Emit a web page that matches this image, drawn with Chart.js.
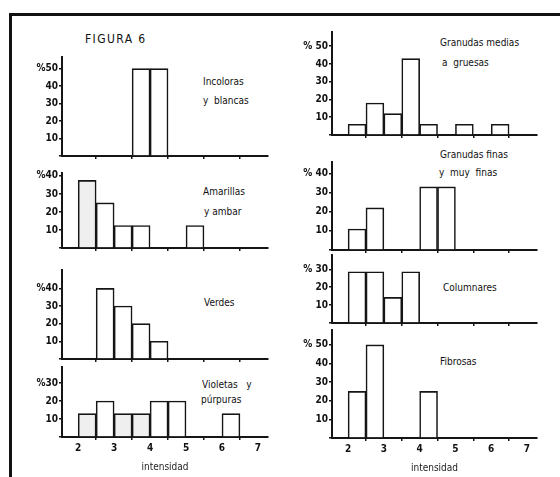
<!DOCTYPE html>
<html>
<head>
<meta charset="utf-8">
<script src="https://cdn.jsdelivr.net/npm/chart.js@4"></script>
<style>
  body { margin: 0; width: 560px; height: 477px; overflow: hidden; position: relative; background: #fff;
         font-family: 'DejaVu Sans Condensed', 'DejaVu Sans', sans-serif; color: #111; }
  canvas { position: absolute; }
  .t { position: absolute; font-size: 10px; line-height: 12px; white-space: pre; }
  .frame-l { position: absolute; left: 9px; top: 13px; width: 3px; height: 470px; background: #111; }
  .frame-t { position: absolute; left: 9px; top: 13px; width: 560px; height: 3px; background: #111; }
</style>
</head>
<body>
<div class="frame-l"></div>
<div class="frame-t"></div>
<div class="t" style="left:85px;top:33px;font-size:12px;letter-spacing:1.4px;">FIGURA 6</div>

<div class="t" style="left:203px;top:76px;">Incoloras</div>
<div class="t" style="left:203px;top:95px;">y  blancas</div>
<div class="t" style="left:203px;top:186px;">Amarillas</div>
<div class="t" style="left:204px;top:206px;">y ambar</div>
<div class="t" style="left:204px;top:297px;">Verdes</div>
<div class="t" style="left:202px;top:379px;">Violetas   y</div>
<div class="t" style="left:201px;top:394px;">púrpuras</div>

<div class="t" style="left:440px;top:37px;">Granudas medias</div>
<div class="t" style="left:442px;top:57px;">a  gruesas</div>
<div class="t" style="left:440px;top:149px;">Granudas finas</div>
<div class="t" style="left:439px;top:167px;">y  muy  finas</div>
<div class="t" style="left:443px;top:282px;">Columnares</div>
<div class="t" style="left:440px;top:356px;">Fibrosas</div>

<script>
// bin centres (intensity, bins of 0.5)
const bins = [2.25, 2.75, 3.25, 3.75, 4.25, 4.75, 5.25, 5.75, 6.25, 6.75];
const xTicks = [2, 3, 4, 5, 6, 7];
const yTicks50 = [10, 20, 30, 40, 50];
const yTicks40 = [10, 20, 30, 40];
const yTicks30 = [10, 20, 30];

// % per bin
const incoloras  = [0, 0, 0, 50, 50, 0, 0, 0, 0, 0];
const amarillas  = [37.5, 25, 12.5, 12.5, 0, 0, 12.5, 0, 0, 0];
const verdes     = [0, 40, 30, 20, 10, 0, 0, 0, 0, 0];
const violetas   = [13, 20, 13, 13, 20, 20, 0, 0, 13, 0];
const granMedias = [6, 18, 12, 43, 6, 0, 6, 0, 6, 0];
const granFinas  = [11, 22, 0, 0, 33, 33, 0, 0, 0, 0];
const columnares = [28.6, 28.6, 14.3, 28.6, 0, 0, 0, 0, 0, 0];
const fibrosas   = [25, 50, 0, 0, 25, 0, 0, 0, 0, 0];

const panels = [
  { values: incoloras,  ticks: yTicks50, max: 56.7, L: 62,  R: 268, T: 57,  B: 159, pct: '%' },
  { values: amarillas,  ticks: yTicks40, max: 41.6, L: 62,  R: 268, T: 173, B: 251, pct: '%', shade: [0] },
  { values: verdes,     ticks: yTicks40, max: 50.4, L: 62,  R: 268, T: 270, B: 362, pct: '%' },
  { values: violetas,   ticks: yTicks30, max: 38.9, L: 62,  R: 268, T: 367, B: 437, pct: '%', shade: [0, 2, 3], bottom: true },
  { values: granMedias, ticks: yTicks50, max: 58,   L: 332, R: 537, T: 32,  B: 138, pct: '% ' },
  { values: granFinas,  ticks: yTicks40, max: 46,   L: 332, R: 537, T: 162, B: 253, pct: '% ' },
  { values: columnares, ticks: yTicks30, max: 38,   L: 332, R: 537, T: 255, B: 326, pct: '% ' },
  { values: fibrosas,   ticks: yTicks50, max: 58,   L: 332, R: 537, T: 330, B: 438, pct: '% ', bottom: true }
];

const ink = '#151515';
const tickFont = { family: "'DejaVu Sans Condensed', 'DejaVu Sans', sans-serif", size: 10, weight: 'bold' };

function makePanel(p) {
  const padTop = 8, yW = 42, padR = 6;
  const xH = p.bottom ? 36 : 4;
  const w = p.R - p.L + yW + padR;
  const h = p.B - p.T + padTop + xH;
  const c = document.createElement('canvas');
  c.width = w; c.height = h;
  c.style.left = (p.L - yW) + 'px';
  c.style.top = (p.T - padTop) + 'px';
  c.style.width = w + 'px';
  c.style.height = h + 'px';
  document.body.appendChild(c);

  const top = p.ticks[p.ticks.length - 1];
  const shade = p.shade || [];

  new Chart(c, {
    type: 'bar',
    data: {
      datasets: [{
        data: bins.map((x, i) => ({ x: x, y: p.values[i] })),
        backgroundColor: bins.map((x, i) => shade.includes(i) ? '#efefef' : '#ffffff'),
        borderColor: ink,
        borderWidth: 1.6,
        borderSkipped: 'start',
        barPercentage: 1,
        categoryPercentage: 1
      }]
    },
    options: {
      responsive: false,
      animation: false,
      devicePixelRatio: 1,
      layout: { padding: { top: padTop, right: padR, left: 0, bottom: 0 } },
      plugins: { legend: { display: false }, tooltip: { enabled: false } },
      scales: {
        x: {
          type: 'linear', min: 1.55, max: 7.28, offset: false,
          afterBuildTicks: s => { s.ticks = xTicks.map(v => ({ value: v })); },
          afterFit: s => { s.height = xH; },
          grid: { drawOnChartArea: false, drawTicks: true, tickLength: 3, color: ink, lineWidth: 1.5 },
          border: { color: ink, width: 2 },
          ticks: { display: !!p.bottom, font: tickFont, color: '#111', padding: 2, maxRotation: 0 },
          title: { display: !!p.bottom, text: 'intensidad', color: '#222', padding: 0,
                   font: { family: "'DejaVu Sans Condensed', 'DejaVu Sans', sans-serif", size: 10 } }
        },
        y: {
          min: 0, max: p.max,
          afterBuildTicks: s => { s.ticks = [0].concat(p.ticks).map(v => ({ value: v })); },
          afterFit: s => { s.width = yW; },
          grid: { drawOnChartArea: false, drawTicks: true, tickLength: 3, color: ink, lineWidth: 1.5 },
          border: { color: ink, width: 2 },
          ticks: {
            font: tickFont, color: '#111', padding: 1,
            callback: v => v === 0 ? '' : (v === top ? p.pct + v : '' + v)
          }
        }
      }
    }
  });
}

panels.forEach(makePanel);
</script>
</body>
</html>
